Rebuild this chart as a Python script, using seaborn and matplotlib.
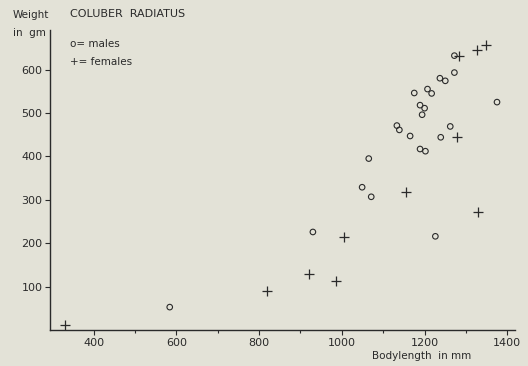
import matplotlib
matplotlib.use("Agg")
import matplotlib.pyplot as plt
import pandas as pd
import seaborn as sns

# body length (mm) and weight (g)
male_length = [1272, 1272, 1237, 1250, 1175, 1207, 1217, 1375, 1189, 1200,
               1194, 1133, 1139, 1262, 1165, 1239, 1189, 1202, 1065, 1049,
               1071, 930, 1226, 584]
male_weight = [632, 593, 580, 574, 546, 555, 545, 525, 518, 511,
               496, 471, 461, 469, 447, 444, 417, 412, 395, 329,
               307, 226, 216, 53]

female_length = [1284, 1326, 1349, 1279, 1155, 1329, 1004, 820, 921, 987, 330]
female_weight = [632, 646, 656, 444, 317, 273, 215, 90, 130, 113, 11]

x_major = [400, 600, 800, 1000, 1200, 1400]
x_minor = [500, 700, 900, 1100, 1300]
y_major = [100, 200, 300, 400, 500, 600]

bg = "#e3e2d7"
ink = "#2a2a2a"


def make_frame():
    df_m = pd.DataFrame({"length": male_length, "weight": male_weight, "sex": "male"})
    df_f = pd.DataFrame({"length": female_length, "weight": female_weight, "sex": "female"})
    return df_m, df_f


def main():
    sns.set_style("ticks")
    plt.rcParams["font.family"] = ["DejaVu Sans"]

    df_m, df_f = make_frame()

    fig = plt.figure(figsize=(5.28, 3.66), dpi=100, facecolor=bg)
    ax = fig.add_axes([0.095, 0.098, 0.88, 0.82])
    ax.set_facecolor(bg)

    sns.scatterplot(data=df_m, x="length", y="weight", ax=ax, marker="o", s=16,
                    facecolors="none", edgecolor=ink, linewidth=0.8)
    sns.scatterplot(data=df_f, x="length", y="weight", ax=ax, marker="+", s=55,
                    color=ink, linewidth=0.9)

    ax.set_xlim(295, 1418)
    ax.set_ylim(0, 691)
    sns.despine(ax=ax)
    for side in ["left", "bottom"]:
        ax.spines[side].set_color(ink)
        ax.spines[side].set_linewidth(1.0)

    ax.set_xticks(x_major)
    ax.set_xticks(x_minor, minor=True)
    ax.set_yticks(y_major)
    ax.tick_params(axis="both", which="major", length=3.5, width=0.8, color=ink,
                   labelsize=8, labelcolor=ink, pad=2)
    ax.tick_params(axis="x", which="minor", length=2, width=0.8, color=ink)

    ax.set_xlabel("Bodylength  in mm", fontsize=7.5, color=ink)
    ax.xaxis.set_label_coords(0.80, -0.068)
    ax.set_ylabel("")

    ax.text(-0.08, 1.05, "Weight", transform=ax.transAxes, fontsize=7.5,
            color=ink, ha="left", va="center")
    ax.text(-0.08, 0.99, "in  gm", transform=ax.transAxes, fontsize=7.5,
            color=ink, ha="left", va="center")
    ax.text(0.043, 1.053, "COLUBER  RADIATUS", transform=ax.transAxes,
            fontsize=8, color=ink, ha="left", va="center")
    ax.text(0.043, 0.953, "o= males", transform=ax.transAxes,
            fontsize=7.5, color=ink, ha="left", va="center")
    ax.text(0.043, 0.895, "+= females", transform=ax.transAxes,
            fontsize=7.5, color=ink, ha="left", va="center")

    fig.savefig("out.png", dpi=100, facecolor=bg)


main()
